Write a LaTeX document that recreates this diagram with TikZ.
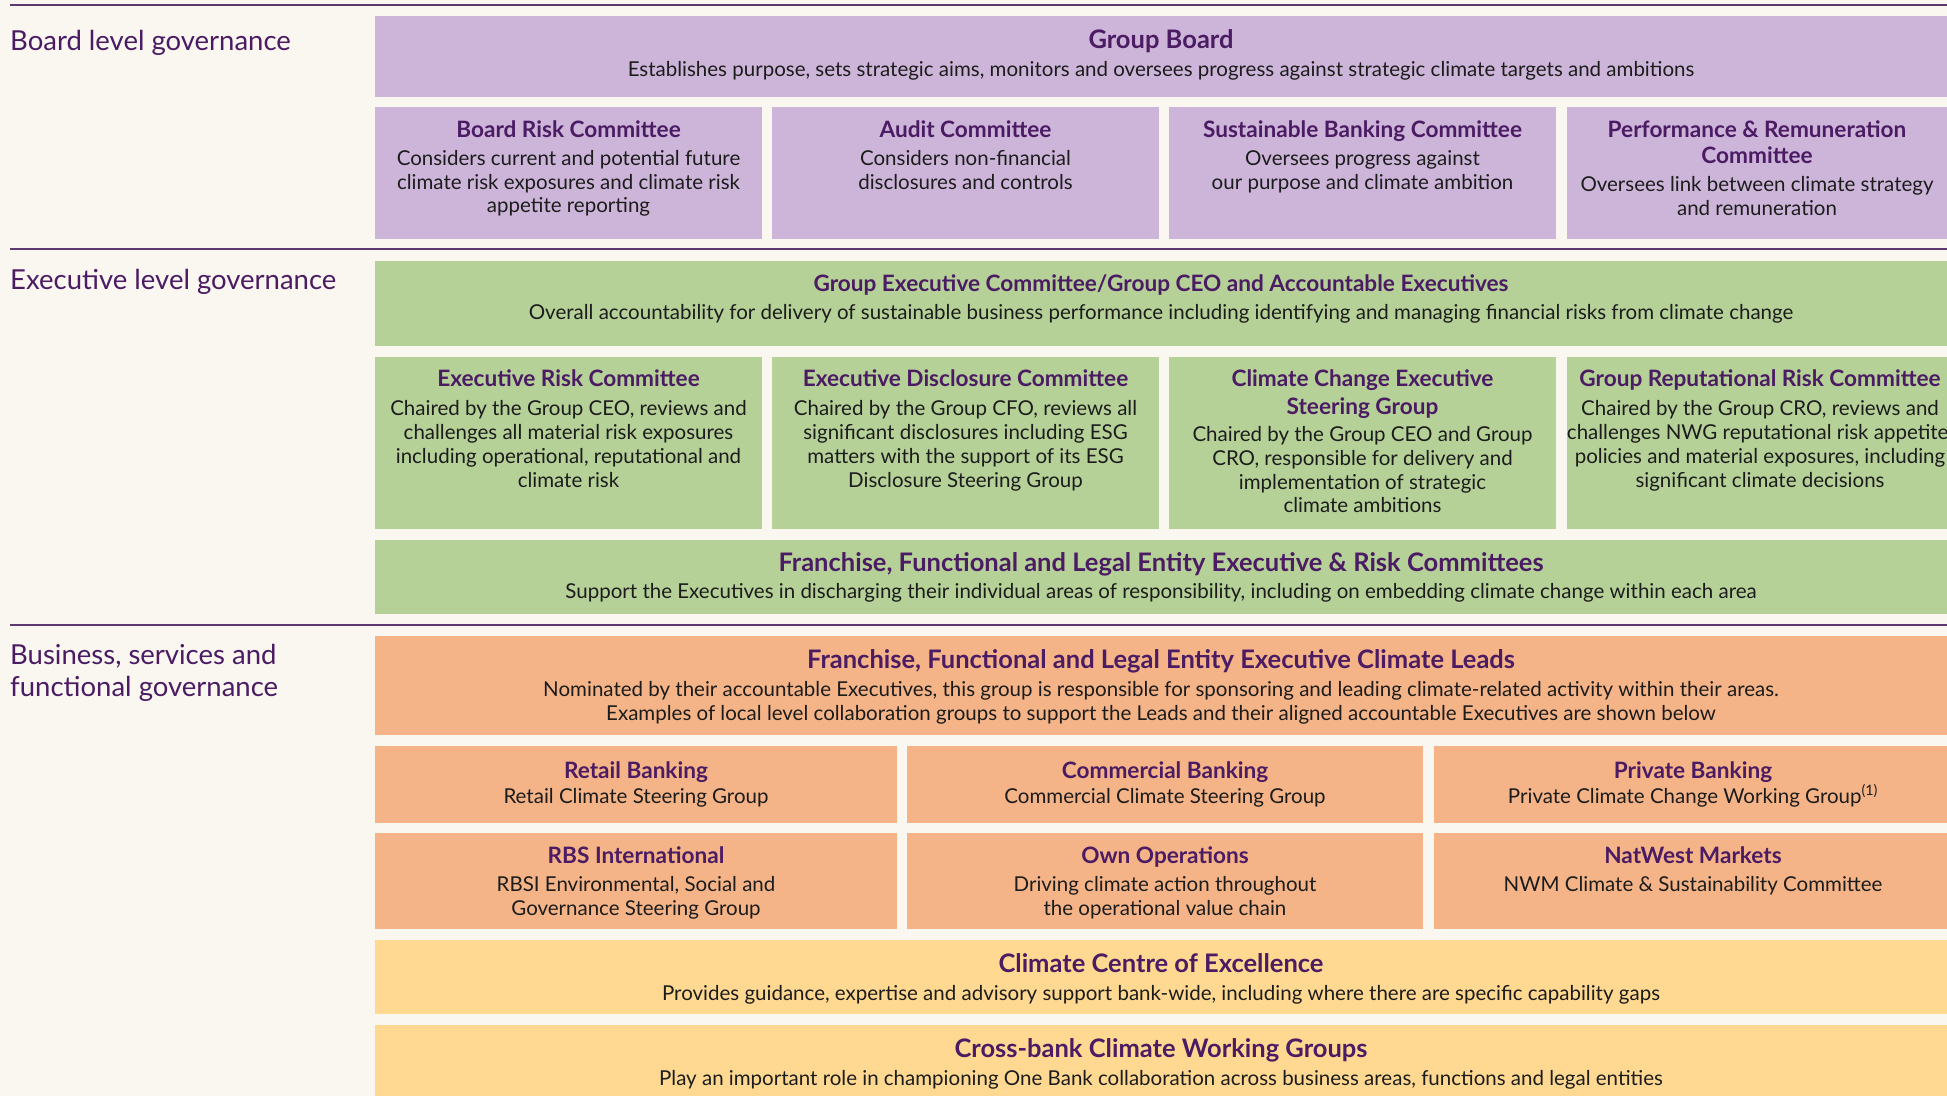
\documentclass[tikz,border=0pt]{standalone}
\usepackage{fontspec}
\setmainfont{Lato}
\definecolor{bg}{HTML}{FAF7F0}
\definecolor{lil}{HTML}{CDB5DA}
\definecolor{grn}{HTML}{B5D198}
\definecolor{org}{HTML}{F4B487}
\definecolor{yel}{HTML}{FFD991}
\definecolor{ttl}{HTML}{4B1B63}
\definecolor{rulec}{HTML}{5B3A70}
\definecolor{txt}{HTML}{1C1C1C}
\tikzset{
  box/.style={rectangle, draw=none, inner sep=0pt, outer sep=0pt, anchor=north west},
  lilbox/.style={box, fill=lil},
  grnbox/.style={box, fill=grn},
  orgbox/.style={box, fill=org},
  yelbox/.style={box, fill=yel},
  bd/.style={anchor=base, inner sep=0pt, text=txt, font=\fontsize{20.5}{24}\selectfont},
  st/.style={anchor=base, inner sep=0pt, text=ttl, font=\bfseries\fontsize{22.6}{26}\selectfont},
  bt/.style={anchor=base, inner sep=0pt, text=ttl, font=\bfseries\fontsize{25.5}{29}\selectfont},
  lbl/.style={anchor=base west, inner sep=0pt, text=ttl, font=\fontsize{27.5}{32}\selectfont},
  sepline/.style={draw=rulec, line width=2pt}
}
\begin{document}
\begin{tikzpicture}[x=1pt,y=-1pt]
\useasboundingbox[fill=bg] (0,0) rectangle (1947,1096);

% separator lines
\coordinate (s1a) at (10,5);     \coordinate (s1b) at (1947,5);
\coordinate (s2a) at (10,248.5); \coordinate (s2b) at (1947,248.5);
\coordinate (s3a) at (10,625);   \coordinate (s3b) at (1947,625);
\draw[sepline] (s1a) -- (s1b);
\draw[sepline] (s2a) -- (s2b);
\draw[sepline] (s3a) -- (s3b);

% ===== Board level =====
\node[lbl] (lb1) at (10,50) {Board level governance};

\node[lilbox, minimum width=1572pt, minimum height=80.7pt] (gb) at (375,16) {};
\node[bt] (gbt) at (1161,48.3) {Group Board};
\node[bd] (gbb) at (1161,76) {Establishes purpose, sets strategic aims, monitors and oversees progress against strategic climate targets and ambitions};

\node[lilbox, minimum width=387pt, minimum height=132pt] (brc) at (375,106.7) {};
\node[lilbox, minimum width=387pt, minimum height=132pt] (ac) at (772,106.7) {};
\node[lilbox, minimum width=387pt, minimum height=132pt] (sbc) at (1169,106.7) {};
\node[lilbox, minimum width=380pt, minimum height=132pt] (prc) at (1567,106.7) {};

\node[st] (brct) at (568.5,137.7) {Board Risk Committee};
\node[bd] (brc1) at (568.5,165.7) {Considers current and potential future};
\node[bd] (brc2) at (568.5,189.1) {climate risk exposures and climate risk};
\node[bd] (brc3) at (568.5,212.5) {appetite reporting};

\node[st] (act) at (965.5,137.7) {Audit Committee};
\node[bd] (ac1) at (965.5,165.7) {Considers non-financial};
\node[bd] (ac2) at (965.5,189.1) {disclosures and controls};

\node[st] (sbct) at (1362.5,137.7) {Sustainable Banking Committee};
\node[bd] (sbc1) at (1362.5,165.7) {Oversees progress against};
\node[bd] (sbc2) at (1362.5,189.1) {our purpose and climate ambition};

\node[st] (prct1) at (1757,137.7) {Performance \& Remuneration};
\node[st] (prct2) at (1757,163.3) {Committee};
\node[bd] (prc1) at (1757,191.7) {Oversees link between climate strategy};
\node[bd] (prc2) at (1757,215) {and remuneration};

% ===== Executive level =====
\node[lbl] (lb2) at (10,289) {Executive level governance};

\node[grnbox, minimum width=1572pt, minimum height=84.7pt] (gec) at (375,261) {};
\node[st] (gect) at (1161,291.7) {Group Executive Committee/Group CEO and Accountable Executives};
\node[bd] (gecb) at (1161,319) {Overall accountability for delivery of sustainable business performance including identifying and managing financial risks from climate change};

\node[grnbox, minimum width=387pt, minimum height=172pt] (erc) at (375,356.7) {};
\node[grnbox, minimum width=387pt, minimum height=172pt] (edc) at (772,356.7) {};
\node[grnbox, minimum width=387pt, minimum height=172pt] (cce) at (1169,356.7) {};
\node[grnbox, minimum width=380pt, minimum height=172pt] (grr) at (1567,356.7) {};

\node[st] (erct) at (568.5,386.7) {Executive Risk Committee};
\node[bd] (erc1) at (568.5,415) {Chaired by the Group CEO, reviews and};
\node[bd] (erc2) at (568.5,439) {challenges all material risk exposures};
\node[bd] (erc3) at (568.5,463) {including operational, reputational and};
\node[bd] (erc4) at (568.5,487) {climate risk};

\node[st] (edct) at (965.5,386.7) {Executive Disclosure Committee};
\node[bd] (edc1) at (965.5,415) {Chaired by the Group CFO, reviews all};
\node[bd] (edc2) at (965.5,439) {significant disclosures including ESG};
\node[bd] (edc3) at (965.5,463) {matters with the support of its ESG};
\node[bd] (edc4) at (965.5,487) {Disclosure Steering Group};

\node[st] (ccet1) at (1362.5,386.7) {Climate Change Executive};
\node[st] (ccet2) at (1362.5,414) {Steering Group};
\node[bd] (cce1) at (1362.5,441.7) {Chaired by the Group CEO and Group};
\node[bd] (cce2) at (1362.5,465.3) {CRO, responsible for delivery and};
\node[bd] (cce3) at (1362.5,489) {implementation of strategic};
\node[bd] (cce4) at (1362.5,512.7) {climate ambitions};

\node[st] (grrt) at (1760,386.7) {Group Reputational Risk Committee};
\node[bd] (grr1) at (1760,415) {Chaired by the Group CRO, reviews and};
\node[bd] (grr2) at (1760,439) {challenges NWG reputational risk appetite,};
\node[bd] (grr3) at (1760,463) {policies and material exposures, including};
\node[bd] (grr4) at (1760,487) {significant climate decisions};

\node[grnbox, minimum width=1572pt, minimum height=74.3pt] (fer) at (375,540) {};
\node[bt] (fert) at (1161,571.7) {Franchise, Functional and Legal Entity Executive \& Risk Committees};
\node[bd] (ferb) at (1161,598.3) {Support the Executives in discharging their individual areas of responsibility, including on embedding climate change within each area};

% ===== Business, services and functional =====
\node[lbl] (lb3a) at (10,664.3) {Business, services and};
\node[lbl] (lb3b) at (10,696.7) {functional governance};

\node[orgbox, minimum width=1572pt, minimum height=98.7pt] (fcl) at (375,636) {};
\node[bt] (fclt) at (1161,668.3) {Franchise, Functional and Legal Entity Executive Climate Leads};
\node[bd] (fcl1) at (1161,696.7) {Nominated by their accountable Executives, this group is responsible for sponsoring and leading climate-related activity within their areas.};
\node[bd] (fcl2) at (1161,720) {Examples of local level collaboration groups to support the Leads and their aligned accountable Executives are shown below};

\node[orgbox, minimum width=522pt, minimum height=76.7pt] (rb) at (375,746) {};
\node[orgbox, minimum width=516pt, minimum height=76.7pt] (cb) at (907,746) {};
\node[orgbox, minimum width=513pt, minimum height=76.7pt] (pb) at (1434,746) {};

\node[st] (rbt) at (636,778.3) {Retail Banking};
\node[bd] (rb1) at (636,803.3) {Retail Climate Steering Group};
\node[st] (cbt) at (1165,778.3) {Commercial Banking};
\node[bd] (cb1) at (1165,803.3) {Commercial Climate Steering Group};
\node[st] (pbt) at (1693,778.3) {Private Banking};
\node[bd] (pb1) at (1693,803.3) {Private Climate Change Working Group\textsuperscript{(1)}};

\node[orgbox, minimum width=522pt, minimum height=96pt] (rbs) at (375,833.3) {};
\node[orgbox, minimum width=516pt, minimum height=96pt] (oo) at (907,833.3) {};
\node[orgbox, minimum width=513pt, minimum height=96pt] (nwm) at (1434,833.3) {};

\node[st] (rbst) at (636,863.3) {RBS International};
\node[bd] (rbs1) at (636,891.7) {RBSI Environmental, Social and};
\node[bd] (rbs2) at (636,915) {Governance Steering Group};
\node[st] (oot) at (1165,863.3) {Own Operations};
\node[bd] (oo1) at (1165,891.7) {Driving climate action throughout};
\node[bd] (oo2) at (1165,915) {the operational value chain};
\node[st] (nwmt) at (1693,863.3) {NatWest Markets};
\node[bd] (nwm1) at (1693,891.7) {NWM Climate \& Sustainability Committee};

\node[yelbox, minimum width=1572pt, minimum height=74.3pt] (ccxbox) at (375,940) {};
\node[bt] (ccxt) at (1161,972.7) {Climate Centre of Excellence};
\node[bd] (ccxb) at (1161,1000) {Provides guidance, expertise and advisory support bank-wide, including where there are specific capability gaps};

\node[yelbox, minimum width=1572pt, minimum height=71pt] (cbw) at (375,1025) {};
\node[bt] (cbwt) at (1161,1057.3) {Cross-bank Climate Working Groups};
\node[bd] (cbwb) at (1161,1085) {Play an important role in championing One Bank collaboration across business areas, functions and legal entities};
\end{tikzpicture}
\end{document}
